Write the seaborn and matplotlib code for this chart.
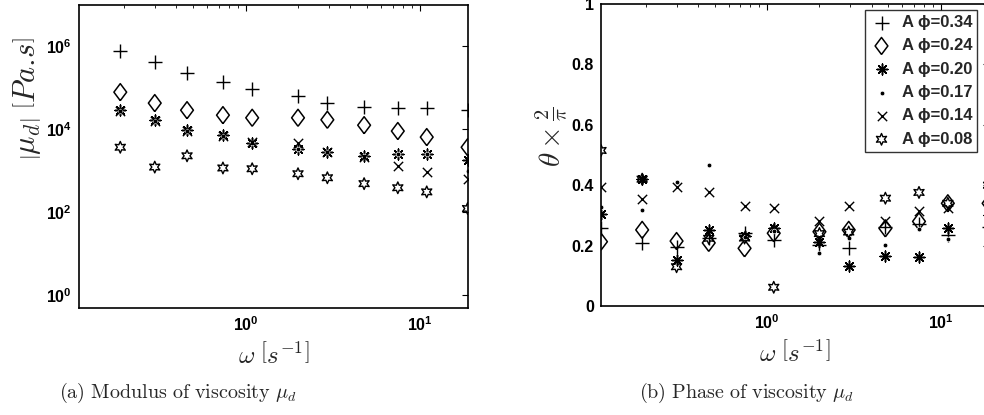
import numpy as np
import pandas as pd
import matplotlib
matplotlib.use("Agg")
import matplotlib.pyplot as plt
import seaborn as sns

# Angular frequencies [1/s]
omega = [0.11, 0.19, 0.30, 0.46, 0.74, 1.09, 2.0, 2.95, 4.8, 7.5, 11.0, 18.9]

labels = ["A \u03d5=0.34", "A \u03d5=0.24", "A \u03d5=0.20",
          "A \u03d5=0.17", "A \u03d5=0.14", "A \u03d5=0.08"]

# |mu_d| [Pa.s]  (no measurement at the lowest frequency)
mod_034 = [np.nan, 7.9e5, 4.2e5, 2.3e5, 1.35e5, 9.5e4, 6.3e4, 4.3e4, 3.5e4, 3.3e4, 3.2e4, 3.0e4]
mod_024 = [np.nan, 7.9e4, 4.3e4, 2.9e4, 2.2e4, 1.9e4, 1.9e4, 1.7e4, 1.26e4, 9.1e3, 6.5e3, 3.7e3]
mod_020 = [np.nan, 3.0e4, 1.66e4, 9.5e3, 7.2e3, 4.7e3, 3.4e3, 2.8e3, 2.3e3, 2.6e3, 2.6e3, 1.8e3]
mod_017 = [np.nan, 2.8e4, 1.6e4, 9.3e3, 7.1e3, 4.6e3, 3.4e3, 2.8e3, 2.3e3, 2.6e3, 2.6e3, 1.0e3]
mod_014 = [np.nan, 2.8e4, 1.6e4, 9.3e3, 7.1e3, 5.0e3, 4.6e3, 2.8e3, 2.1e3, 1.3e3, 9.3e2, 6.5e2]
mod_008 = [np.nan, 3.7e3, 1.23e3, 2.3e3, 1.17e3, 1.12e3, 8.5e2, 6.8e2, 4.9e2, 3.9e2, 3.1e2, 1.23e2]

# Phase theta * 2/pi
ph_034 = [0.257, 0.208, 0.195, 0.224, 0.242, 0.219, 0.202, 0.191, 0.260, 0.270, 0.235, 0.260]
ph_024 = [0.213, 0.252, 0.215, 0.209, 0.191, 0.241, 0.246, 0.252, 0.257, 0.280, 0.340, 0.340]
ph_020 = [0.304, 0.420, 0.152, 0.252, 0.232, 0.257, 0.213, 0.133, 0.166, 0.163, 0.257, 0.300]
ph_017 = [0.327, 0.318, 0.412, 0.467, 0.230, 0.250, 0.175, 0.224, 0.202, 0.254, 0.221, 0.350]
ph_014 = [0.395, 0.355, 0.393, 0.379, 0.331, 0.326, 0.283, 0.331, 0.280, 0.315, 0.324, 0.370]
ph_008 = [0.515, 0.420, 0.130, 0.224, 0.225, 0.062, 0.240, 0.245, 0.357, 0.376, 0.340, 0.400]

mods = [mod_034, mod_024, mod_020, mod_017, mod_014, mod_008]
phases = [ph_034, ph_024, ph_020, ph_017, ph_014, ph_008]

# Diamond slightly narrower than tall
diamond = [(0, -1), (0.75, 0), (0, 1), (-0.75, 0), (0, -1)]

# marker, size (pt^2), drawn as line art?, line width
styles = [
    ("+", 110, True, 1.0),
    (diamond, 150, False, 1.1),
    ((8, 2, 0), 60, True, 1.1),
    (".", 45, True, 0.5),
    ("x", 45, True, 1.0),
    ((6, 1, 0), 70, False, 1.0),
]

sns.set_theme(style="white")
plt.rcParams["font.family"] = ["Liberation Sans", "DejaVu Sans"]
plt.rcParams["font.weight"] = "bold"
plt.rcParams["mathtext.fontset"] = "cm"
plt.rcParams["axes.edgecolor"] = "black"
plt.rcParams["axes.linewidth"] = 1.2

fig = plt.figure(figsize=(9.84, 4.15), dpi=100)
ax1 = fig.add_axes([79 / 984, 1 - 308 / 415, 389 / 984, 303 / 415])
ax2 = fig.add_axes([601 / 984, 1 - 306 / 415, 388 / 984, 302 / 415])


def draw(ax, values):
    for lab, vals, (m, s, line_art, lw) in zip(labels, values, styles):
        df = pd.DataFrame({"omega": omega, "v": vals}).dropna()
        if line_art:
            sns.scatterplot(data=df, x="omega", y="v", ax=ax, marker=m, s=s,
                            color="black", linewidth=lw, label=lab, legend=False)
        else:
            sns.scatterplot(data=df, x="omega", y="v", ax=ax, marker=m, s=s,
                            facecolor="none", edgecolor="black", linewidth=lw,
                            label=lab, legend=False)


draw(ax1, mods)
draw(ax2, phases)

for ax in (ax1, ax2):
    ax.set_xscale("log")
    ax.set_xlim(0.11, 19.0)
    ax.tick_params(which="both", direction="in", top=True, right=True,
                   labelsize=11.5, colors="black")
    ax.tick_params(which="major", length=4, width=0.8, pad=5)
    ax.tick_params(which="minor", length=2, width=0.6)
    ax.set_xticks([1, 10])
    ax.set_xlabel(r"$\omega\ \left[s^{-1}\right]$", fontsize=18, labelpad=6)
    for sp in ax.spines.values():
        sp.set_visible(True)
        sp.set_color("black")
    for t in ax.get_xticklabels() + ax.get_yticklabels():
        t.set_fontweight("bold")

ax1.set_yscale("log")
ax1.set_ylim(0.49, 1e7)
ax1.set_yticks([1, 1e2, 1e4, 1e6])
ax1.yaxis.set_minor_locator(matplotlib.ticker.NullLocator())
ax1.set_ylabel(r"$\left|\mu_d\right|\ \left[Pa.\!s\right]$", fontsize=22)
ax1.yaxis.set_label_coords(-0.093, 0.69)

ax2.set_ylim(0, 1)
ax2.set_yticks([0, 0.2, 0.4, 0.6, 0.8, 1])
ax2.set_yticklabels(["0", "0.2", "0.4", "0.6", "0.8", "1"])
ax2.set_ylabel(r"$\theta \times \frac{2}{\pi}$", fontsize=21)
ax2.yaxis.set_label_coords(-0.082, 0.56)

leg = ax2.legend(loc="upper right", bbox_to_anchor=(977 / 984, 1 - 10 / 415),
                 bbox_transform=fig.transFigure, borderaxespad=0,
                 fancybox=False, frameon=True, edgecolor="black",
                 prop={"weight": "bold", "size": 12},
                 handletextpad=0.5, labelspacing=0.5, borderpad=0.3,
                 handlelength=1.4)
leg.get_frame().set_linewidth(1.0)

fig.text(178 / 984, 1 - 393 / 415, r"$\mathrm{(a)\ Modulus\ of\ viscosity}\ \mu_d$",
         ha="center", va="center", fontsize=14.5)
fig.text(746 / 984, 1 - 393 / 415, r"$\mathrm{(b)\ Phase\ of\ viscosity}\ \mu_d$",
         ha="center", va="center", fontsize=14.5)

fig.savefig("out.png", dpi=100)
